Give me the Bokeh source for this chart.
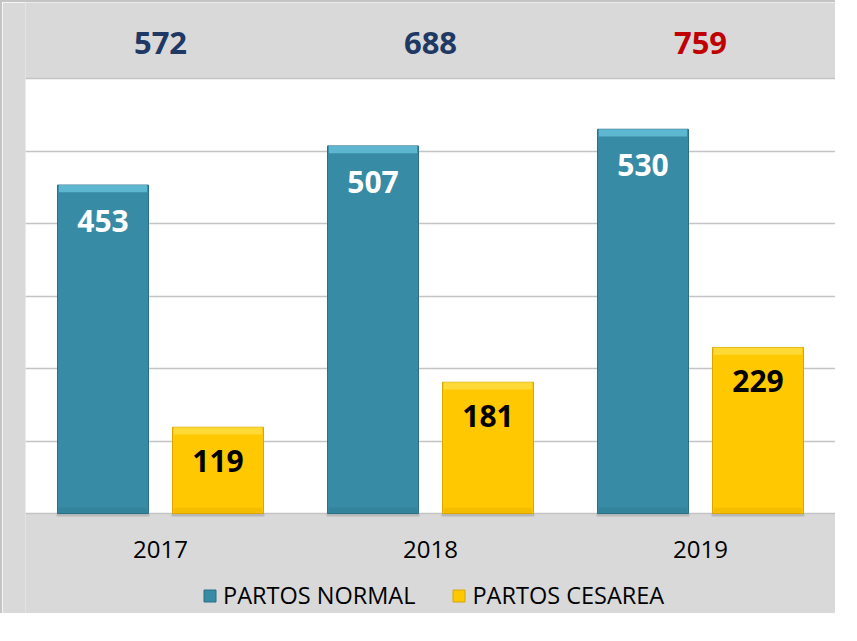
from bokeh.plotting import figure
from bokeh.models import (ColumnDataSource, FactorRange, Range1d, LabelSet, Legend, LegendItem,
                          FixedTicker, BoxAnnotation)
from bokeh.core.properties import value
from bokeh.transform import dodge
from bokeh.embed import file_html
from bokeh.resources import INLINE

years = ["2017", "2018", "2019"]
normal = [453, 507, 530]
cesarea = [119, 181, 229]
series_names = ["PARTOS NORMAL", "PARTOS CESAREA"]
y_ticks = [0, 100, 200, 300, 400, 500, 600]

totals = [a + b for a, b in zip(normal, cesarea)]
tot_colors = ["#c00000" if t == max(totals) else "#1f3864" for t in totals]

FONT = "Open Sans"
BG = "#d9d9d9"
Y_MAX = 600
PX_PER_UNIT = 435 / Y_MAX  # frame pixels per unit between 0 and Y_MAX
TOP_PX, BOTTOM_PX = 76, 102

src = ColumnDataSource(dict(
    year=years, normal=normal, cesarea=cesarea,
    normal_txt=[str(v) for v in normal], cesarea_txt=[str(v) for v in cesarea],
    n_top=[v - 10 for v in normal], c_top=[v - 10 for v in cesarea],
    n_bot=[8] * 3,
))
tsrc = ColumnDataSource(dict(year=years, txt=[str(t) for t in totals],
                             color=tot_colors,
                             ypos=[Y_MAX + 36 / PX_PER_UNIT] * 3,
                             ylab=[-36 / PX_PER_UNIT] * 3))

p = figure(x_range=FactorRange(*years),
           y_range=Range1d(-BOTTOM_PX / PX_PER_UNIT, Y_MAX + TOP_PX / PX_PER_UNIT),
           width=835, height=613, output_backend="svg", toolbar_location=None,
           min_border_left=23, min_border_right=2, min_border_top=0, min_border_bottom=0)
p.styles = {"border-left": "2px solid #c4c4c4", "border-top": "2px solid #c4c4c4"}
p.background_fill_color = BG
p.border_fill_color = BG
p.outline_line_color = None

# white plotting area 0..Y_MAX
p.add_layout(BoxAnnotation(bottom=0, top=Y_MAX, fill_color="white", fill_alpha=1,
                           line_color=None, level="image"))

off = 0.213
w = 0.337
N_COL, N_LIGHT, N_DARK = "#378ba4", "#6cc6e0", "#2b6f84"
C_COL, C_LIGHT, C_DARK = "#ffc800", "#ffe04a", "#d9a600"

# shadows
p.vbar(x=dodge("year", -off, range=p.x_range), top=0, bottom=-4, width=w * 1.02, source=src,
       fill_color="#999999", fill_alpha=0.5, line_color=None)
p.vbar(x=dodge("year", off, range=p.x_range), top=0, bottom=-4, width=w * 1.02, source=src,
       fill_color="#999999", fill_alpha=0.5, line_color=None)

rn = p.vbar(x=dodge("year", -off, range=p.x_range), top="normal", width=w, source=src,
            fill_color=N_COL, line_color=N_DARK, line_width=1)
rc = p.vbar(x=dodge("year", off, range=p.x_range), top="cesarea", width=w, source=src,
            fill_color=C_COL, line_color=C_DARK, line_width=1)
# bevel highlights
p.vbar(x=dodge("year", -off, range=p.x_range), top="normal", bottom="n_top", width=w * 0.97,
       source=src, fill_color=N_LIGHT, line_color=None, fill_alpha=0.75)
p.vbar(x=dodge("year", off, range=p.x_range), top="cesarea", bottom="c_top", width=w * 0.97,
       source=src, fill_color=C_LIGHT, line_color=None, fill_alpha=0.75)
p.vbar(x=dodge("year", -off, range=p.x_range), top="n_bot", bottom=0, width=w * 0.97,
       source=src, fill_color=N_DARK, line_color=None, fill_alpha=0.3)
p.vbar(x=dodge("year", off, range=p.x_range), top="n_bot", bottom=0, width=w * 0.97,
       source=src, fill_color=C_DARK, line_color=None, fill_alpha=0.3)

p.add_layout(LabelSet(x=dodge("year", -off, range=p.x_range), y="normal", text="normal_txt",
                      source=src, y_offset=-36, text_align="center", text_baseline="middle",
                      text_color="white", text_font=value(FONT), text_font_style="bold",
                      text_font_size="30px"))
p.add_layout(LabelSet(x=dodge("year", off, range=p.x_range), y="cesarea", text="cesarea_txt",
                      source=src, y_offset=-34, text_align="center", text_baseline="middle",
                      text_color="black", text_font=value(FONT), text_font_style="bold",
                      text_font_size="30px"))
# totals above the plotting area
p.text(x="year", y="ypos", text="txt", source=tsrc, text_align="center",
       text_baseline="middle", text_color="color", text_font=value(FONT),
       text_font_style="bold", text_font_size="31px")
# category labels
p.text(x="year", y="ylab", text="year", source=tsrc, text_align="center",
       text_baseline="middle", text_color="black", text_font=value(FONT),
       text_font_size="24px")

p.xaxis.visible = False
p.yaxis.visible = False
p.xgrid.grid_line_color = None
p.ygrid.grid_line_color = "#c4c4c4"
p.ygrid.grid_line_width = 1.5
p.ygrid.ticker = FixedTicker(ticks=y_ticks)

legend = Legend(items=[LegendItem(label=series_names[0], renderers=[rn]),
                       LegendItem(label=series_names[1], renderers=[rc])],
                orientation="horizontal", location=(177, 4))
legend.background_fill_alpha = 0
legend.border_line_color = None
legend.label_text_font = FONT
legend.label_text_font_size = "23.5px"
legend.label_text_color = "black"
legend.glyph_width = 15
legend.glyph_height = 15
legend.spacing = 36
legend.label_standoff = 6
legend.padding = 4
legend.margin = 0
p.add_layout(legend)

open("out.html", "w").write(file_html(p, INLINE))
